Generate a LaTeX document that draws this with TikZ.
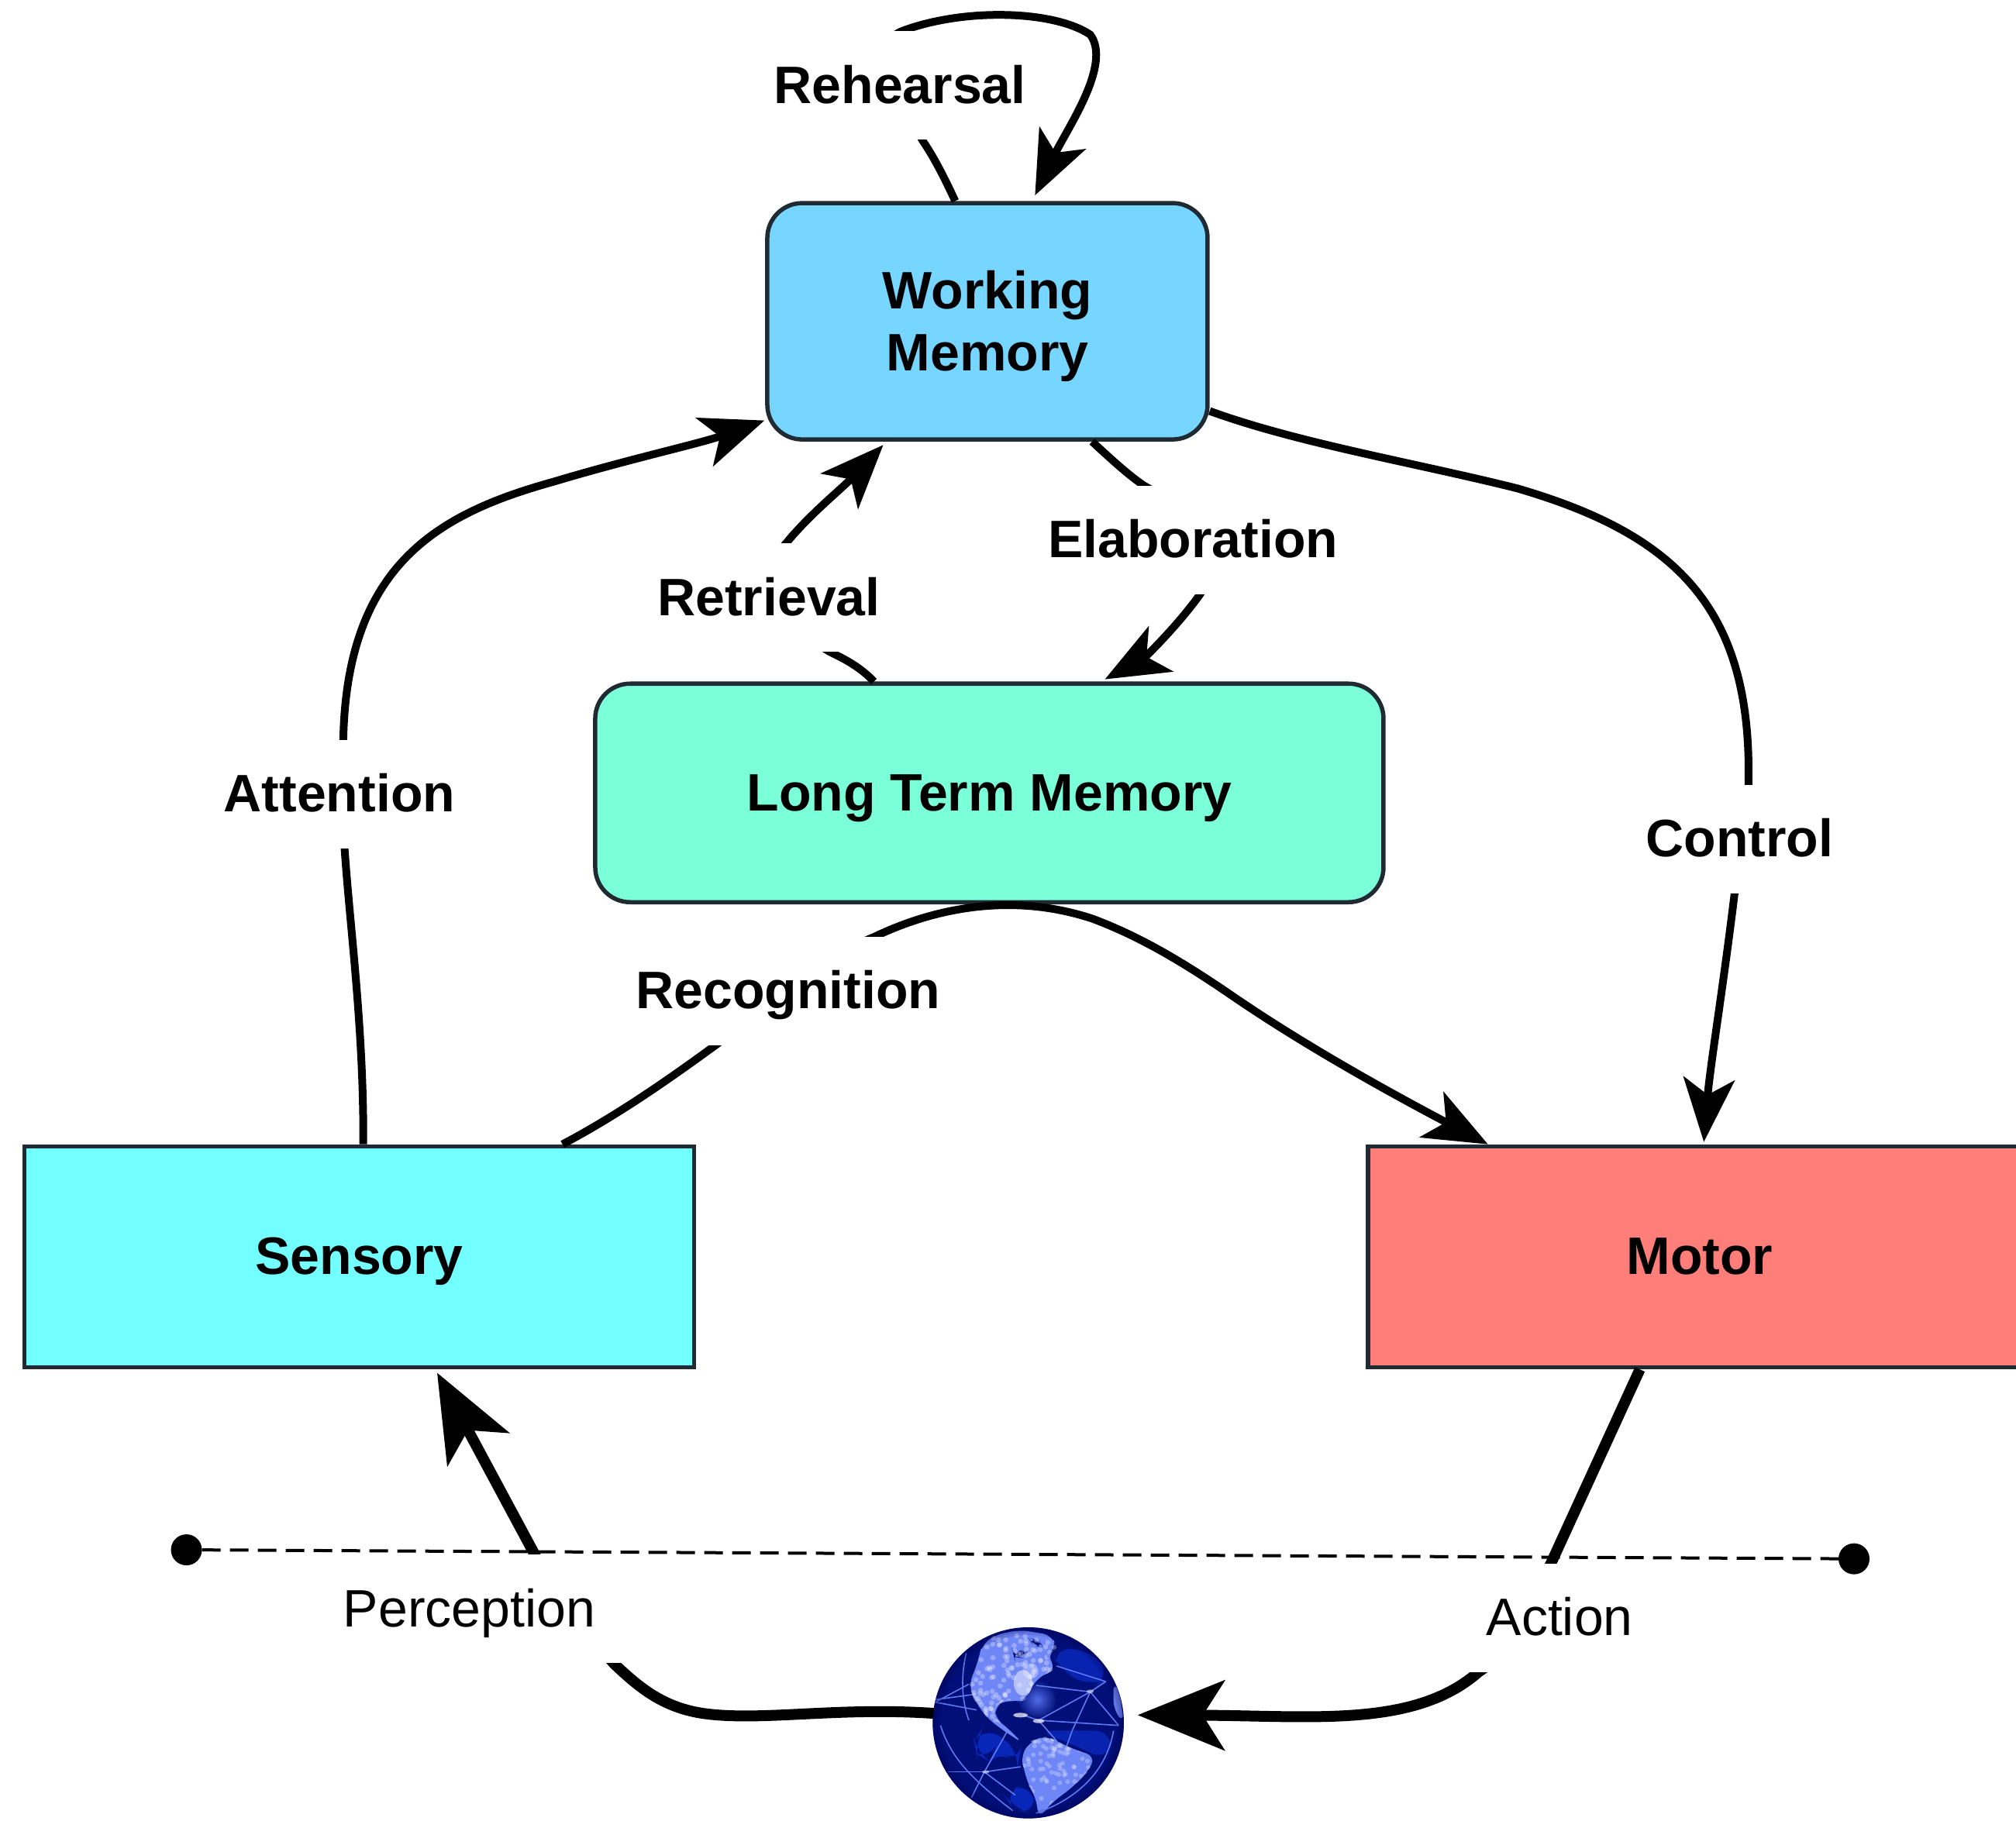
\documentclass[tikz,border=0pt]{standalone}
\usepackage{fontspec}
\setmainfont{Liberation Sans}
\usetikzlibrary{arrows.meta,shapes.geometric}
\definecolor{wmblue}{HTML}{76D6FF}
\definecolor{ltmgreen}{HTML}{7AFFD9}
\definecolor{sensecyan}{HTML}{73FFFF}
\definecolor{motorred}{HTML}{FF7E79}
\definecolor{boxline}{HTML}{1F2A33}
\definecolor{landblue}{HTML}{6F86F7}
\definecolor{netblue}{HTML}{5F78F0}
\definecolor{seadark}{HTML}{020F78}
\definecolor{seamid}{HTML}{0A2CC8}
\newcommand\globeNA{(350,190) -- (400,150) -- (500,130) -- (620,150) -- (640,200) -- (600,230) -- (640,280) -- (560,320) -- (520,400) -- (490,410) -- (440,400) -- (400,430) -- (400,470) -- (450,510) -- (510,570) -- (420,510) -- (370,470) -- (320,400) -- (300,340) -- (330,270) -- cycle}
\newcommand\globeSA{(500,620) -- (540,560) -- (600,540) -- (700,590) -- (790,620) -- (760,680) -- (700,740) -- (620,800) -- (570,860) -- (560,780) -- (530,730) -- cycle}
\tikzset{
  box/.style={draw=boxline,line width=5.5pt,font=\fontsize{68}{80}\selectfont\bfseries,inner sep=0pt,text height=46pt,text depth=0pt},
  roundbox/.style={box,rounded corners=45pt},
  lab/.style={fill=white,inner xsep=1pt,inner ysep=0pt,minimum height=140pt,text=black,font=\fontsize{68}{80}\selectfont\bfseries,text height=46pt,text depth=0pt},
  plainlab/.style={lab,font=\fontsize{68}{80}\selectfont},
  edge/.style={draw=black,line width=10pt,-{Stealth[length=82pt,width=66pt,inset=21pt]}},
  thick edge/.style={draw=black,line width=14pt,-{Stealth[length=112pt,width=90pt,inset=28pt]}},
  dot/.style={circle,fill=black,draw=none,minimum size=40pt,inner sep=0pt},
  net/.style={draw=netblue,line width=1.6pt}
}
\begin{document}
\begin{tikzpicture}[x=1.6588pt,y=-1.6584pt]
\fill[white] (0,0) rectangle (1568,1417);
\clip (0,0) rectangle (1568,1417);

% boxes
\node[roundbox,fill=wmblue,minimum width=568pt,minimum height=305pt,text height=0pt,text depth=0pt] (wm) at (768,250) {\raisebox{-14pt}[0pt][0pt]{\begin{tabular}{@{}c@{}}Working\\Memory\end{tabular}}};
\node[roundbox,fill=ltmgreen,minimum width=1017pt,minimum height=282pt] (ltm) at (769.5,617) {Long Term Memory};
\node[box,fill=sensecyan,minimum width=864pt,minimum height=285pt] (sensory) at (279.5,978) {Sensory};
\node[box,fill=motorred,minimum width=856pt,minimum height=285pt] (motor) at (1322,978) {Motor};
\node[circle,minimum size=246pt,inner sep=0pt,draw=none] (globe) at (800,1341) {};

% globe picture
\begin{scope}[x=0.3333pt,y=-0.3333pt,shift={(1150pt,-2060pt)}]
  \begin{scope}
    \clip (530,490) circle (370);
    \fill[seadark] (150,110) rectangle (910,870);
    \begin{scope}[rounded corners=25pt]
    \fill[seamid,opacity=.8] (320,560) -- (360,500) -- (500,600) -- (490,650) -- (400,590) -- (380,640) -- (330,610) -- cycle;
    \fill[seamid,opacity=.8] (430,760) -- (540,720) -- (560,850) -- (470,820) -- cycle;
    \fill[seamid,opacity=.7] (620,200) -- (780,210) -- (850,320) -- (780,350) -- (650,290) -- cycle;
    \fill[seamid,opacity=.7] (560,520) -- (860,520) -- (840,640) -- (720,580) -- cycle;
    \end{scope}
    \shade[inner color=landblue!70!seamid,outer color=seadark] (565,400) circle (75);
    % network
    \foreach \a/\b/\c/\d in {170/410/330/440,170/410/300/340,170/400/320/380,360/680/500/660,360/680/220/680,360/680/310/780,360/680/480/770,570/480/770/370,770/370/560/345,770/370/700/520,570/480/880/500,770/370/880/500,700/520/650/660,570/480/510/460,640/270/830/330,450/520/360/680,570/480/640/560,830/330/770/370}
      {\draw[net] (\a,\b) -- (\c,\d);}
    \draw[net] (190,500) .. controls (230,620) and (300,700) .. (470,830);
    \draw[net] (860,520) .. controls (840,640) and (760,770) .. (560,840);
    \draw[net] (290,220) .. controls (270,300) and (270,400) .. (300,480);
    % land
    \begin{scope}[rounded corners=12pt]
      \fill[landblue] \globeNA;
      \fill[landblue] \globeSA;
      \fill[landblue] (860,330) -- (885,380) -- (900,490) -- (860,440) -- cycle;
      \fill[seadark] (470,215) -- (530,205) -- (510,240) -- (475,235) -- cycle;
      \fill[seadark] (530,160) -- (570,170) -- (590,200) -- (550,190) -- cycle;
    \end{scope}
    % city lights
    \pgfmathsetseed{7}
    \begin{scope}
      \clip \globeNA;
      \foreach \i in {1,...,170}{
        \pgfmathsetmacro{\px}{300+rnd*340}
        \pgfmathsetmacro{\py}{150+rnd*340}
        \fill[white,opacity=.3] (\px,\py) circle (10);
      }
    \end{scope}
    \begin{scope}
      \clip \globeSA;
      \foreach \i in {1,...,110}{
        \pgfmathsetmacro{\px}{500+rnd*290}
        \pgfmathsetmacro{\py}{540+rnd*320}
        \fill[white,opacity=.27] (\px,\py) circle (9);
      }
    \end{scope}
    \fill[white,opacity=.5] (510,335) ellipse (36 and 50);
    \fill[white,opacity=.3] (540,290) circle (30);
    \fill[white,opacity=.7] (500,460) ellipse (28 and 9);
    \fill[white,opacity=.7] (570,483) ellipse (22 and 8);
    \fill[white,opacity=.5] (770,368) ellipse (14 and 7);
    \fill[white,opacity=.5] (365,680) ellipse (14 and 6);
    % rim shading
    \foreach \w in {60,40,20}{\draw[black!70!blue,opacity=.12,line width=\w/3*1pt] (530,490) circle (370);}
  \end{scope}
\end{scope}

% connectors
\draw[edge] (wm.105.8) .. controls (733,135) and (726,122) .. (718,110)
   .. controls (690,65) and (680,32) .. (702,24)
   .. controls (750,6) and (820,8) .. (848,27)
   .. controls (865,50) and (830,100) .. (805,152);
\draw[edge,shorten >=1pt] (sensory.88) .. controls (283,800) and (272,720) .. (268,660)
   -- (267,575)
   .. controls (270,440) and (340,400) .. (430,375)
   .. controls (490,357) and (545,345) .. (wm.204.4);
\draw[edge,shorten >=6pt] (ltm.136.5) .. controls (668,518) and (655,512) .. (645,507)
   .. controls (600,480) and (590,445) .. (612,422)
   .. controls (630,400) and (655,380) .. (wm.230.1);
\draw[edge,shorten >=6pt] (wm.311.7) .. controls (865,358) and (878,370) .. (890,378)
   .. controls (930,400) and (950,440) .. (933,463)
   .. controls (915,488) and (890,512) .. (ltm.45.5);
\draw[edge,shorten >=3pt] (wm.338.7) .. controls (1010,345) and (1100,360) .. (1180,380)
   .. controls (1300,415) and (1360,470) .. (1360,600)
   .. controls (1360,650) and (1352,670) .. (1349,696)
   .. controls (1340,770) and (1330,830) .. (motor.88);
\draw[edge] (sensory.29.3) .. controls (480,868) and (520,840) .. (557,813)
   .. controls (600,780) and (640,745) .. (680,729)
   .. controls (730,705) and (790,695) .. (850,715)
   .. controls (890,730) and (925,752) .. (960,776)
   .. controls (1020,817) and (1090,855) .. (motor.152.8);
\draw[thick edge,shorten >=5pt] (globe.174) .. controls (650,1328) and (590,1340) .. (545,1333)
   .. controls (515,1328) and (497,1313) .. (478,1295)
   .. controls (455,1270) and (430,1240) .. (415,1208)
   -- (sensory.304.2);
\draw[thick edge,shorten >=18pt] (motor.242.4) -- (1207,1215)
   .. controls (1190,1250) and (1175,1285) .. (1150,1301)
   .. controls (1100,1345) and (1020,1335) .. (globe.5);

% labels
\node[lab] (lrehearsal) at (700,66.5) {Rehearsal};
\node[lab] (lretrieval) at (598,465) {Retrieval};
\node[lab] (lelab) at (928,420) {Elaboration};
\node[lab] (lattention) at (264,618) {Attention};
\node[lab] (lcontrol) at (1353,653) {Control};
\node[lab] (lrecog) at (613,771) {Recognition};
\node[plainlab,inner xsep=42pt] (lperc) at (365,1252) {Perception};
\node[plainlab,inner xsep=22pt] (lact) at (1213,1259) {Action};

% environment boundary
\node[dot] (d1) at (145,1206) {};
\node[dot] (d2) at (1442,1213) {};
\draw[draw=black,line width=4pt,dash pattern=on 24pt off 12pt] (d1) -- (d2);
\end{tikzpicture}
\end{document}
